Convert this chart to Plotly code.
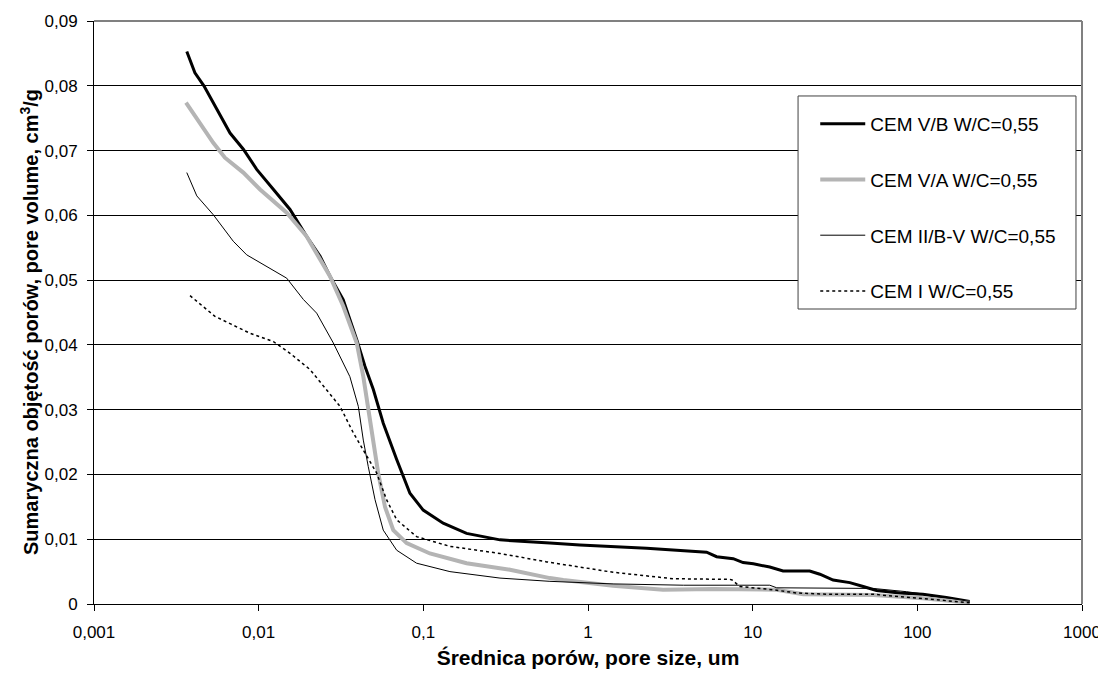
import plotly.graph_objects as go

# ---- data (pore size in um, cumulative pore volume in cm3/g) ----
vb_x = [0.00366, 0.0041, 0.00465, 0.00556, 0.0067, 0.00807, 0.00973, 0.0123, 0.0155, 0.0195,
        0.0236, 0.0271, 0.0326, 0.0394, 0.0442, 0.0497, 0.0571, 0.0689, 0.0829, 0.0998,
        0.132, 0.183, 0.292, 0.587, 0.893, 2.27, 4.36, 5.25, 6.04, 7.62,
        8.75, 10.1, 12.7, 15.3, 22.2, 25.6, 30.8, 38.9, 46.9, 56.5,
        78.3, 108, 150, 208]
vb_y = [0.0853, 0.0820, 0.0800, 0.0764, 0.0727, 0.0702, 0.0671, 0.0640, 0.0609, 0.0568,
        0.0537, 0.0506, 0.0470, 0.0408, 0.0367, 0.0331, 0.0279, 0.0223, 0.0171, 0.0145,
        0.01247, 0.0109, 0.0099, 0.0094, 0.0091, 0.0086, 0.0081, 0.0080, 0.0073, 0.0070,
        0.0064, 0.0062, 0.0057, 0.0051, 0.0051, 0.0046, 0.0037, 0.0033, 0.0027, 0.0021,
        0.0017, 0.0015, 0.0010, 0.0004]

va_x = [0.00362, 0.0044, 0.0053, 0.00624, 0.00807, 0.0102, 0.0148, 0.0195, 0.0271, 0.0326,
        0.0394, 0.0432, 0.0463, 0.0497, 0.0532, 0.0585, 0.0657, 0.0792, 0.1096, 0.183,
        0.336, 0.587, 0.708, 1.42, 2.86, 5.75, 11.1, 14.0, 20.3, 54,
        108, 208]
va_y = [0.0774, 0.0743, 0.0712, 0.0689, 0.0666, 0.0640, 0.0604, 0.0568, 0.0506, 0.0460,
        0.0403, 0.0351, 0.0300, 0.0248, 0.0202, 0.0150, 0.0114, 0.0094, 0.0078, 0.0063,
        0.0053, 0.0040, 0.0037, 0.0028, 0.0022, 0.0023, 0.0022, 0.0022, 0.0015, 0.0014,
        0.0009, 0.0002]

iib_x = [0.00366, 0.00421, 0.0053, 0.00701, 0.00846, 0.0112, 0.0148, 0.0187, 0.0225, 0.0284,
         0.0358, 0.0403, 0.0432, 0.0463, 0.0509, 0.0571, 0.0689, 0.091, 0.145, 0.292,
         0.587, 1.42, 3.8, 8.36, 12.7, 14.0, 54, 86, 119, 208]
iib_y = [0.0666, 0.0630, 0.0601, 0.0560, 0.0539, 0.0521, 0.0503, 0.0470, 0.0449, 0.0403,
         0.0351, 0.0305, 0.0253, 0.0212, 0.0161, 0.0114, 0.0083, 0.0063, 0.0050, 0.0040,
         0.0035, 0.0031, 0.0029, 0.0029, 0.0029, 0.0025, 0.0024, 0.0019, 0.0014, 0.0004]

ci_x = [0.00383, 0.00543, 0.0068, 0.00885, 0.0123, 0.0155, 0.0205, 0.0259, 0.0312, 0.0376,
        0.0442, 0.0521, 0.0598, 0.0689, 0.091, 0.145, 0.292, 0.561, 1.42, 3.29,
        7.28, 7.5, 8.36, 11.1, 13.3, 18.5, 29.4, 54, 86, 137, 208]
ci_y = [0.0476, 0.0444, 0.0432, 0.0418, 0.0405, 0.0387, 0.0362, 0.0331, 0.0305, 0.0264,
        0.0233, 0.0202, 0.0161, 0.0130, 0.0104, 0.0089, 0.0078, 0.0065, 0.0049, 0.0039,
        0.0038, 0.0037, 0.0027, 0.0024, 0.0022, 0.0017, 0.0015, 0.0015, 0.0011, 0.0006, 0.0002]

series_names = ["CEM V/B W/C=0,55", "CEM V/A W/C=0,55", "CEM II/B-V W/C=0,55", "CEM I W/C=0,55"]

x_tickvals = [0.001, 0.01, 0.1, 1, 10, 100, 1000]
x_ticktext = ["0,001", "0,01", "0,1", "1", "10", "100", "1000"]
y_tickvals = [0, 0.01, 0.02, 0.03, 0.04, 0.05, 0.06, 0.07, 0.08, 0.09]
y_ticktext = ["0", "0,01", "0,02", "0,03", "0,04", "0,05", "0,06", "0,07", "0,08", "0,09"]

x_title = "<b>Średnica porów, pore size, um</b>"
y_title = "<b>Sumaryczna objętość porów, pore volume, cm<sup>3</sup>/g</b>"

FONT = "Liberation Sans, Arial, sans-serif"

fig = go.Figure()
styles = [
    dict(color="#000000", width=3),
    dict(color="#b4b4b4", width=4),
    dict(color="#000000", width=1),
    dict(color="#000000", width=1.5, dash="dot"),
]
data = [(vb_x, vb_y), (va_x, va_y), (iib_x, iib_y), (ci_x, ci_y)]
for i, ((xs, ys), name, st) in enumerate(zip(data, series_names, styles)):
    fig.add_trace(go.Scatter(x=xs, y=ys, mode="lines", name=name, line=st,
                             legendgroup=f"g{i}"))

fig.update_layout(
    width=1098, height=667,
    margin=dict(l=86, r=24, t=13, b=71, autoexpand=False),
    paper_bgcolor="white", plot_bgcolor="white",
    font=dict(family=FONT, size=16, color="black"),
    showlegend=True,
    legend=dict(x=0.730, y=0.856, xanchor="left", yanchor="top",
                bgcolor="rgba(0,0,0,0)", borderwidth=0,
                font=dict(family=FONT, size=19, color="black"),
                tracegroupgap=28, itemwidth=45),
    xaxis=dict(type="log", range=[-3, 3], tickvals=x_tickvals, ticktext=x_ticktext,
               ticks="outside", ticklen=6, tickcolor="black", showline=True,
               linecolor="black", linewidth=1, showgrid=False, zeroline=False,
               tickfont=dict(size=17), automargin=False, ticklabelstandoff=7,
               title=dict(text=x_title, font=dict(size=21), standoff=8)),
    yaxis=dict(range=[0, 0.09], tickvals=y_tickvals, ticktext=y_ticktext,
               ticks="outside", ticklen=6, tickcolor="black", showline=True,
               linecolor="black", linewidth=1, showgrid=True, gridcolor="black",
               gridwidth=1, zeroline=False, tickfont=dict(size=17), automargin=False,
               ticklabelstandoff=6),
    annotations=[
        dict(text=y_title, textangle=-90, xref="paper", yref="paper",
             x=-0.0658, y=0.4837, xanchor="center", yanchor="middle",
             showarrow=False, font=dict(size=20, family=FONT, color="black")),
    ],
    shapes=[
        dict(type="line", xref="paper", yref="paper", x0=0, x1=1, y0=1, y1=1,
             line=dict(color="#808080", width=2), layer="above"),
        dict(type="line", xref="paper", yref="paper", x0=1, x1=1, y0=0, y1=1,
             line=dict(color="#808080", width=2), layer="above"),
        dict(type="rect", xref="paper", yref="paper", x0=0.7126, x1=0.9939,
             y0=0.506, y1=0.8714, fillcolor="white",
             line=dict(color="#404040", width=1), layer="above"),
    ],
)

fig.write_html("out.html")
